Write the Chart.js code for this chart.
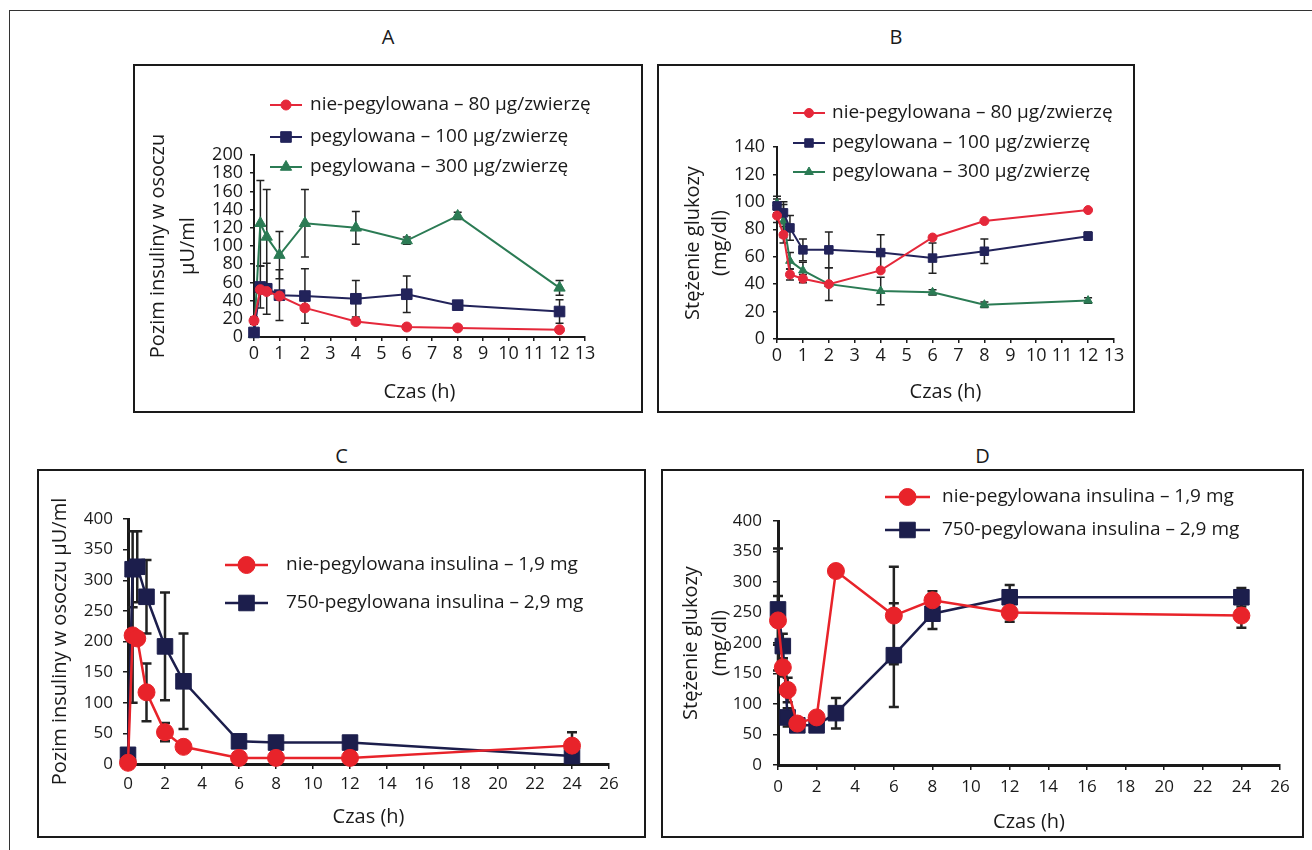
<!DOCTYPE html>
<html>
<head>
<meta charset="utf-8">
<script src="https://cdn.jsdelivr.net/npm/chart.js@4.4.0/dist/chart.umd.min.js"></script>
<style>
  body { margin: 0; background: #fff; width: 1312px; height: 850px; overflow: hidden; position: relative;
         font-family: 'Open Sans', sans-serif; color: #1a1a1a; }
  .frame { position: absolute; left: 9px; top: 10px; right: -5px; bottom: -5px;
           border-top: 1.5px solid #333; border-left: 1.5px solid #333; }
  .box { position: absolute; border: 2px solid #1a1a1a; box-sizing: border-box; }
  .box canvas { position: absolute; left: 0; top: 0; }
  .letter { position: absolute; font-size: 20px; transform: translate(-50%, -50%); }
</style>
</head>
<body>
<div class="frame"></div>
<div id="root"></div>
<script>
// --- dane: panel A (insulina, µU/ml) ---
const timesA = [0, 0.25, 0.5, 1, 2, 4, 6, 8, 12];
const aNie80 = [18, 52, 50, 45, 32, 17, 11, 10, 8];
const aPeg100 = [5, 55, 53, 46, 45, 42, 47, 35, 28];
const aPeg300 = [3, 125, 110, 90, 125, 120, 106, 133, 54];
const aNie80Err = [4, 0, 0, 0, 0, 0, 0, 0, 0];
const aPeg100Err = [0, 23, 28, 28, 30, 20, 20, 3, 13];
const aPeg300Err = [0, 47, 52, 26, 37, 18, 4, 4, 8];

// --- panel B (glukoza, mg/dl) ---
const timesB = [0, 0.25, 0.5, 1, 2, 4, 6, 8, 12];
const bNie80 = [90, 76, 47, 44, 40, 50, 74, 86, 94];
const bPeg100 = [97, 92, 81, 65, 65, 63, 59, 64, 75];
const bPeg300 = [99, 86, 57, 50, 40, 35, 34, 25, 28];
const bNie80Err = [5, 6, 4, 3, 0, 0, 0, 0, 0];
const bPeg100Err = [5, 8, 9, 8, 13, 13, 11, 9, 3];
const bPeg300Err = [5, 12, 6, 6, 12, 10, 2, 2, 2];

// --- panel C (insulina, µU/ml) ---
const timesC = [0, 0.25, 0.5, 1, 2, 3, 6, 8, 12, 24];
const cNie = [2, 210, 205, 117, 52, 28, 10, 10, 10, 30];
const cPeg750 = [15, 318, 322, 273, 192, 135, 37, 35, 35, 13];
const cNieErr = [0, 110, 0, 47, 15, 8, 0, 0, 0, 22];
const cPeg750Err = [0, 62, 58, 60, 88, 78, 5, 5, 5, 5];

// --- panel D (glukoza, mg/dl) ---
const timesD = [0, 0.25, 0.5, 1, 2, 3, 6, 8, 12, 24];
const dNie = [237, 160, 123, 68, 78, 318, 245, 270, 250, 245];
const dPeg750 = [255, 195, 78, 65, 65, 85, 180, 248, 275, 275];
const dNieErr = [40, 15, 20, 8, 5, 8, 80, 15, 15, 20];
const dPeg750Err = [100, 20, 15, 8, 8, 25, 85, 25, 20, 15];

const labelsAB = ['nie-pegylowana – 80 µg/zwierzę', 'pegylowana – 100 µg/zwierzę', 'pegylowana – 300 µg/zwierzę'];
const labelsCD = ['nie-pegylowana insulina – 1,9 mg', '750-pegylowana insulina – 2,9 mg'];

const FONT = "'Open Sans', sans-serif";
const INK = '#1a1a1a';
const RED = '#e5283a', NAVY = '#22235a', GREEN = '#2b7b54';
const RED2 = '#e8232a', NAVY2 = '#1c1e4c';

// Słupki błędów rysowane przez skale wykresu
const errorBars = {
    id: 'errorBars',
    beforeDatasetsDraw(chart, args, opts) {
        const { ctx, scales: { x, y } } = chart;
        ctx.save();
        ctx.strokeStyle = opts.color;
        ctx.lineWidth = opts.width;
        chart.data.datasets.forEach(ds => {
            if (!ds.errors) return;
            ds.data.forEach((p, i) => {
                const e = ds.errors[i];
                if (!e) return;
                const hi = Math.min(p.y + e, y.max), lo = Math.max(p.y - e, y.min);
                const px = x.getPixelForValue(p.x);
                const top = y.getPixelForValue(hi), bot = y.getPixelForValue(lo);
                ctx.beginPath();
                ctx.moveTo(px, top); ctx.lineTo(px, bot);
                if (hi === p.y + e) { ctx.moveTo(px - opts.cap, top); ctx.lineTo(px + opts.cap, top); }
                if (lo === p.y - e) { ctx.moveTo(px - opts.cap, bot); ctx.lineTo(px + opts.cap, bot); }
                ctx.stroke();
            });
        });
        ctx.restore();
    }
};

// Legenda wewnątrz ramki, rysowana ze stylów zbiorów danych
const panelLegend = {
    id: 'panelLegend',
    afterDraw(chart, args, opts) {
        const ctx = chart.ctx;
        ctx.save();
        ctx.font = opts.font;
        ctx.textBaseline = 'middle';
        chart.data.datasets.forEach((ds, i) => {
            const yy = opts.rows[i];
            ctx.strokeStyle = ds.borderColor;
            ctx.fillStyle = ds.backgroundColor;
            ctx.lineWidth = ds.borderWidth;
            ctx.beginPath();
            ctx.moveTo(opts.x0, yy); ctx.lineTo(opts.x1, yy);
            ctx.stroke();
            ctx.lineWidth = 1;
            Chart.helpers.drawPoint(ctx, { pointStyle: ds.pointStyle, radius: ds.pointRadius, borderWidth: 1, rotation: 0 },
                (opts.x0 + opts.x1) / 2, yy);
            ctx.fillStyle = INK;
            ctx.fillText(ds.label, opts.textX, yy);
        });
        ctx.restore();
    }
};

function series(label, times, vals, errs, color, style, radius, width) {
    return {
        label, errors: errs,
        data: times.map((t, i) => ({ x: t, y: vals[i] })),
        borderColor: color, backgroundColor: color,
        pointStyle: style, pointRadius: radius, pointHoverRadius: radius,
        pointBorderWidth: 1, borderWidth: width, tension: 0, clip: false
    };
}

function panel(p) {
    const root = document.getElementById('root');
    const letter = document.createElement('div');
    letter.className = 'letter';
    letter.textContent = p.letter;
    letter.style.left = (p.box[0] + p.box[2] / 2) + 'px';
    letter.style.top = p.letterY + 'px';
    root.appendChild(letter);

    const box = document.createElement('div');
    box.className = 'box';
    Object.assign(box.style, { left: p.box[0] + 'px', top: p.box[1] + 'px', width: p.box[2] + 'px', height: p.box[3] + 'px' });
    const canvas = document.createElement('canvas');
    const cx = p.box[0] + 2, cy = p.box[1] + 2, cw = p.box[2] - 4, ch = p.box[3] - 4;
    canvas.width = cw; canvas.height = ch;
    box.appendChild(canvas);
    root.appendChild(box);

    const [pl, pt, pr, pb] = p.plot;
    const xLine = p.titleSize * 1.2;
    const padL = p.yTitleX - cx - p.yLine / 2;
    const yW = pl - cx - padL;
    const xH = p.xTitleY + xLine / 2 - pb;
    const padB = Math.max(cy + ch - pb - xH, 0);

    const axisGrid = { drawOnChartArea: false, drawTicks: true, tickLength: p.tickLen, color: INK, lineWidth: 1.5 };
    new Chart(canvas, {
        type: 'line',
        data: { datasets: p.datasets },
        options: {
            responsive: false, animation: false,
            layout: { padding: { left: padL, top: pt - cy, right: cx + cw - pr, bottom: padB } },
            scales: {
                x: {
                    type: 'linear', min: 0, max: p.xMax,
                    ticks: { stepSize: p.xStep, autoSkip: false, color: INK, padding: p.xPad, maxRotation: 0,
                             font: { family: FONT, size: p.tickSize } },
                    grid: axisGrid, border: { color: INK, width: p.axisW },
                    title: { display: true, text: 'Czas (h)', color: INK, padding: 0,
                             font: { family: FONT, size: p.titleSize, lineHeight: 1.2 } },
                    afterFit: s => { s.height = xH; }
                },
                y: {
                    min: 0, max: p.yMax,
                    ticks: { stepSize: p.yStep, autoSkip: false, color: INK, padding: p.yPad,
                             font: { family: FONT, size: p.tickSize } },
                    grid: axisGrid, border: { color: INK, width: p.axisW },
                    title: { display: true, text: p.yTitle, color: INK, padding: 0,
                             font: { family: FONT, size: p.titleSize, lineHeight: p.yLine / p.titleSize } },
                    afterFit: s => { s.width = yW; }
                }
            },
            plugins: {
                legend: { display: false }, tooltip: { enabled: false },
                errorBars: { color: '#222', width: p.errW, cap: p.cap },
                panelLegend: { x0: p.legend.x0 - cx, x1: p.legend.x1 - cx, textX: p.legend.textX - cx,
                               rows: p.legend.rows.map(r => r - cy), font: p.legend.font }
            }
        },
        plugins: [errorBars, panelLegend]
    });
}

panel({
    letter: 'A', letterY: 36, box: [133, 64, 510, 349], plot: [254, 155, 585, 337],
    xMax: 13, xStep: 1, yMax: 200, yStep: 20, tickSize: 18, titleSize: 20, tickLen: 4, xPad: 2, yPad: 7,
    axisW: 2, errW: 1.5, cap: 4,
    yTitle: ['Pozim insuliny w osoczu', 'µU/ml'], yTitleX: 158, yLine: 30, xTitleY: 392,
    legend: { x0: 270, x1: 302, textX: 310, rows: [105, 137, 167], font: `19px ${FONT}` },
    datasets: [
        series(labelsAB[0], timesA, aNie80, aNie80Err, RED, 'circle', 5, 2),
        series(labelsAB[1], timesA, aPeg100, aPeg100Err, NAVY, 'rect', 7.5, 2),
        series(labelsAB[2], timesA, aPeg300, aPeg300Err, GREEN, 'triangle', 6.5, 2)
    ]
});

panel({
    letter: 'B', letterY: 36, box: [657, 64, 478, 349], plot: [777, 147, 1114, 339],
    xMax: 13, xStep: 1, yMax: 140, yStep: 20, tickSize: 18, titleSize: 20, tickLen: 4, xPad: 2, yPad: 8,
    axisW: 2, errW: 1.5, cap: 4,
    yTitle: ['Stężenie glukozy', '(mg/dl)'], yTitleX: 693, yLine: 27, xTitleY: 392,
    legend: { x0: 793, x1: 825, textX: 832, rows: [113, 143, 172], font: `19px ${FONT}` },
    datasets: [
        series(labelsAB[0], timesB, bNie80, bNie80Err, RED, 'circle', 4.5, 2),
        series(labelsAB[1], timesB, bPeg100, bPeg100Err, NAVY, 'rect', 6, 2),
        series(labelsAB[2], timesB, bPeg300, bPeg300Err, GREEN, 'triangle', 5, 2)
    ]
});

panel({
    letter: 'C', letterY: 455, box: [37, 469, 609, 369], plot: [128, 519, 609, 764],
    xMax: 26, xStep: 2, yMax: 400, yStep: 50, tickSize: 17, titleSize: 20, tickLen: 5, xPad: 5, yPad: 10,
    axisW: 3, errW: 2.5, cap: 5,
    yTitle: 'Pozim insuliny w osoczu µU/ml', yTitleX: 60, yLine: 24, xTitleY: 817,
    legend: { x0: 225, x1: 268, textX: 286, rows: [565, 603], font: `19px ${FONT}` },
    datasets: [
        series(labelsCD[0], timesC, cNie, cNieErr, RED2, 'circle', 8.5, 2.5),
        series(labelsCD[1], timesC, cPeg750, cPeg750Err, NAVY2, 'rect', 11, 2.5)
    ]
});

panel({
    letter: 'D', letterY: 455, box: [661, 469, 643, 369], plot: [778, 521, 1280, 765],
    xMax: 26, xStep: 2, yMax: 400, yStep: 50, tickSize: 17, titleSize: 20, tickLen: 5, xPad: 7, yPad: 11,
    axisW: 3, errW: 2.5, cap: 5,
    yTitle: ['Stężenie glukozy', '(mg/dl)'], yTitleX: 691, yLine: 29, xTitleY: 822,
    legend: { x0: 885, x1: 930, textX: 942, rows: [497, 530], font: `19px ${FONT}` },
    datasets: [
        series(labelsCD[0], timesD, dNie, dNieErr, RED2, 'circle', 8.5, 2.5),
        series(labelsCD[1], timesD, dPeg750, dPeg750Err, NAVY2, 'rect', 11, 2.5)
    ]
});
</script>
</body>
</html>
